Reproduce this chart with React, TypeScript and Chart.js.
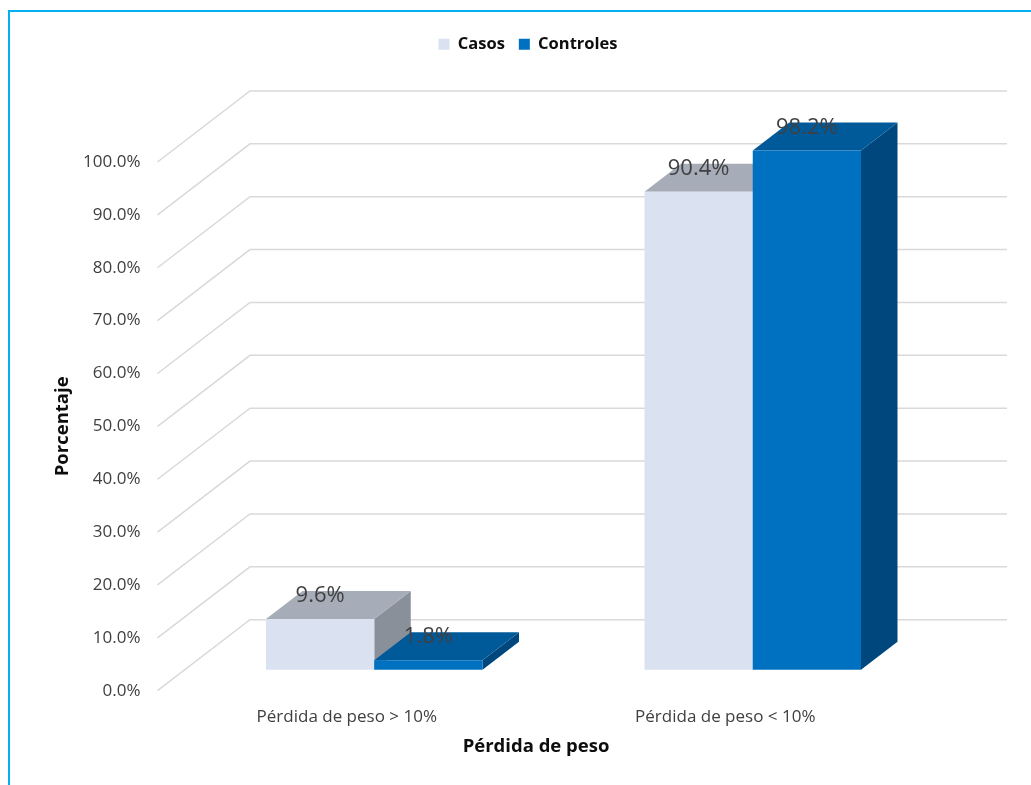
import React, { useEffect, useRef } from "react";
import { Chart, registerables } from "chart.js";

Chart.register(...registerables);

const categories = ["Pérdida de peso > 10%", "Pérdida de peso < 10%"];
const casos = [9.6, 90.4];
const controles = [1.8, 98.2];
const seriesNames = ["Casos", "Controles"];

const FONT = "'Open Sans', 'Noto Sans', sans-serif";
const TEXT = "#404040";
const GRID = "#D9D9D9";

// Oblique projection offsets, in pixels, from the front plane of the axes.
const BAR_PLANE = { dx: 27.5, dy: -21 };
const BAR_DEPTH = { dx: 36.5, dy: -28 };
const BACK_WALL = { dx: 92.5, dy: -71 };

const faces = [
  { front: "#DAE2F2", top: "#A6ACB8", side: "#8A9099" },
  { front: "#0070C0", top: "#005A9A", side: "#00477D" },
];

function polygon(ctx: CanvasRenderingContext2D, points: number[][], fill: string) {
  ctx.beginPath();
  points.forEach(([x, y], i) => (i ? ctx.lineTo(x, y) : ctx.moveTo(x, y)));
  ctx.closePath();
  ctx.fillStyle = fill;
  ctx.fill();
}

// Draws the walls, the extruded bars and their value labels in series order.
const box3d = {
  id: "box3d",
  afterLayout(chart: any) {
    // Legend sits above the plot, centred on a point right of the canvas middle.
    const legend = chart.legend;
    const h = legend.bottom - legend.top;
    legend.left = 25;
    legend.right = 1031;
    legend.top = 22;
    legend.bottom = 22 + h;
  },
  beforeDatasetsDraw(chart: any) {
    const { ctx, chartArea, scales } = chart;
    const { dx, dy } = BACK_WALL;

    ctx.save();
    ctx.strokeStyle = GRID;
    ctx.lineWidth = 1.5;
    scales.y.ticks.forEach((tick: any) => {
      const y = scales.y.getPixelForValue(tick.value);
      ctx.beginPath();
      ctx.moveTo(chartArea.left, y);
      ctx.lineTo(chartArea.left + dx, y + dy);
      ctx.lineTo(chartArea.right + dx, y + dy);
      ctx.stroke();
    });
    ctx.restore();

    ctx.save();
    ctx.translate(BAR_PLANE.dx, BAR_PLANE.dy);
    chart.data.datasets.forEach((_: any, d: number) => {
      const color = faces[d];
      chart.getDatasetMeta(d).data.forEach((bar: any) => {
        const { x, y, base, width } = bar.getProps(["x", "y", "base", "width"]);
        const l = x - width / 2;
        const r = x + width / 2;
        const ox = BAR_DEPTH.dx;
        const oy = BAR_DEPTH.dy;
        polygon(ctx, [[r, y], [r + ox, y + oy], [r + ox, base + oy], [r, base]], color.side);
        polygon(ctx, [[l, y], [l + ox, y + oy], [r + ox, y + oy], [r, y]], color.top);
        bar.draw(ctx);
      });
    });
    ctx.restore();

    ctx.save();
    ctx.font = `22px ${FONT}`;
    ctx.fillStyle = TEXT;
    ctx.textAlign = "center";
    ctx.textBaseline = "middle";
    chart.data.datasets.forEach((set: any, d: number) => {
      chart.getDatasetMeta(d).data.forEach((bar: any, i: number) => {
        const { x, y } = bar.getProps(["x", "y"]);
        ctx.fillText(`${set.data[i].toFixed(1)}%`, x + BAR_PLANE.dx, y + BAR_PLANE.dy - 23);
      });
    });
    ctx.restore();

    return false;
  },
};

export default function App() {
  const ref = useRef<HTMLCanvasElement>(null);

  useEffect(() => {
    if (!ref.current) return;
    const chart = new Chart(ref.current, {
      type: "bar",
      data: {
        labels: categories,
        datasets: [
          { label: seriesNames[0], data: casos, backgroundColor: faces[0].front },
          { label: seriesNames[1], data: controles, backgroundColor: faces[1].front },
        ],
      },
      plugins: [box3d],
      options: {
        responsive: false,
        animation: false,
        layout: { padding: { top: 121.5, right: 116.5, left: 0, bottom: 0 } },
        datasets: { bar: { categoryPercentage: 0.572, barPercentage: 1 } },
        plugins: {
          tooltip: { enabled: false },
          legend: {
            position: "top",
            labels: {
              boxWidth: 11,
              boxHeight: 11,
              padding: 14,
              color: "#0D0D0D",
              font: { family: FONT, size: 16.5, weight: "bold" },
            },
          },
        },
        scales: {
          x: {
            grid: { display: false },
            border: { display: false },
            afterFit: (s: any) => { s.height = 94.3; },
            ticks: {
              color: TEXT,
              padding: 8,
              maxRotation: 0,
              font: { family: FONT, size: 17 },
            },
            title: {
              display: true,
              text: "Pérdida de peso",
              color: "#0D0D0D",
              padding: { top: 0, bottom: 27 },
              font: { family: FONT, size: 18.5, weight: "bold" },
            },
          },
          y: {
            min: 0,
            max: 100,
            grid: { display: false },
            border: { display: false },
            afterFit: (s: any) => { s.width = 157.5; },
            ticks: {
              stepSize: 10,
              color: TEXT,
              padding: 9,
              font: { family: FONT, size: 17 },
              callback: (v: any) => `${Number(v).toFixed(1)}%`,
            },
            title: {
              display: true,
              text: "Porcentaje",
              color: "#0D0D0D",
              padding: { top: 52, bottom: 0 },
              font: { family: FONT, size: 18.5, weight: "bold" },
            },
          },
        },
      },
    } as any);
    return () => chart.destroy();
  }, []);

  return (
    <>
      <div
        style={{
          position: "fixed",
          left: 8,
          top: 10,
          right: 0,
          bottom: 0,
          borderLeft: "2px solid #00B0F0",
          borderTop: "2px solid #00B0F0",
        }}
      />
      <canvas
        ref={ref}
        width={1031}
        height={785}
        style={{ position: "fixed", left: 0, top: 0, width: 1031, height: 785 }}
      />
    </>
  );
}
